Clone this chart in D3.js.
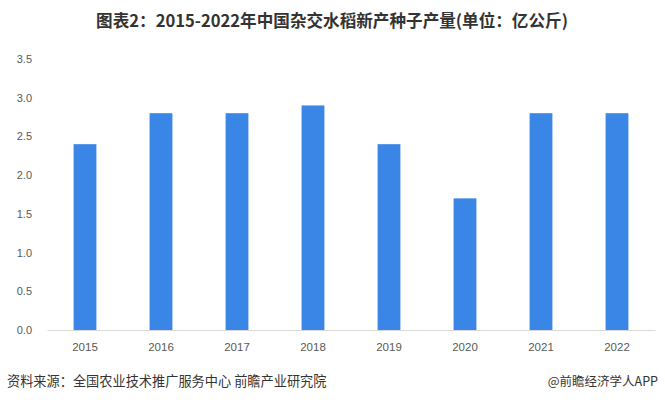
<!DOCTYPE html>
<html><head><meta charset="utf-8">
<script src="https://cdn.jsdelivr.net/npm/d3@7"></script>
<style>body{margin:0;background:#fff;}svg{display:block;font-family:"Microsoft YaHei","Noto Sans CJK SC",sans-serif;}</style>
</head><body>
<script>
const categories = ["2015","2016","2017","2018","2019","2020","2021","2022"];
const values = [2.4, 2.8, 2.8, 2.9, 2.4, 1.7, 2.8, 2.8];
const yTicks = [0, 0.5, 1.0, 1.5, 2.0, 2.5, 3.0, 3.5];
const title = "图表2：2015-2022年中国杂交水稻新产种子产量(单位：亿公斤)";
const source = "资料来源：全国农业技术推广服务中心 前瞻产业研究院";
const credit = "@前瞻经济学人APP";

(function(){
const W = 665, H = 402;
const svg = d3.select("body").append("svg").attr("width", W).attr("height", H);
const mLeft = 47, mRight = 655, mTop = 59, mBottom = 330;
const x = d3.scaleBand().domain(categories).range([mLeft, mRight]).paddingInner(0.7).paddingOuter(0.35);
const y = d3.scaleLinear().domain([0, 3.5]).range([mBottom, mTop]);

svg.append("text").attr("x", 332).attr("y", 27).attr("text-anchor", "middle")
  .attr("font-size", 16.6).attr("font-weight", "bold").attr("fill", "#333").text(title);

const ya = svg.append("g").attr("transform", `translate(${mLeft},0)`)
  .call(d3.axisLeft(y).tickValues(yTicks).tickFormat(d3.format(".1f")).tickSize(0).tickPadding(15));
ya.select(".domain").remove();
ya.selectAll("text").attr("font-size", 11).attr("fill", "#595959").attr("font-family", "Liberation Sans, Arial, sans-serif");

svg.selectAll("rect.bar").data(values).join("rect").attr("class", "bar")
  .attr("x", (d, i) => x(categories[i])).attr("width", x.bandwidth())
  .attr("y", d => y(d)).attr("height", d => y(0) - y(d)).attr("fill", "#3a86e6");

const xa = svg.append("g").attr("transform", `translate(0,${mBottom})`)
  .call(d3.axisBottom(x).tickSize(0).tickPadding(13));
xa.select(".domain").attr("stroke", "#d9d9d9");
xa.selectAll("text").attr("font-size", 11.5).attr("fill", "#595959").attr("font-family", "Liberation Sans, Arial, sans-serif");

svg.append("text").attr("x", 7).attr("y", 386).attr("font-size", 13.2).attr("fill", "#333").text(source);
svg.append("text").attr("x", 658).attr("y", 386).attr("text-anchor", "end").attr("font-size", 12.5).attr("fill", "#333").text(credit);
})();
</script>
</body></html>
